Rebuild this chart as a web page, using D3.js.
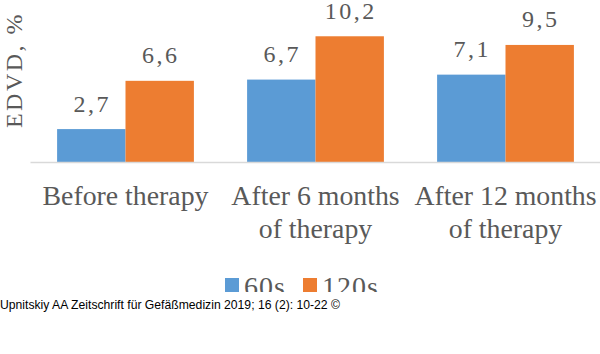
<!DOCTYPE html>
<html lang="en">
<head>
<meta charset="utf-8">
<title>EDVD chart</title>
<script src="https://d3js.org/d3.v7.min.js"></script>
<style>
  body { margin: 0; background: #fff; }
  svg { display: block; }
  .serif { font-family: "Liberation Serif", "Times New Roman", serif; fill: #595959; }
</style>
</head>
<body>
<div id="chart"></div>
<script>
// data
var categories = ["Before therapy", "After 6 months of therapy", "After 12 months of therapy"];
var labelLines = [["Before therapy"], ["After 6 months", "of therapy"], ["After 12 months", "of therapy"]];
var seriesNames = ["60s", "120s"];
var values60 = [2.7, 6.7, 7.1];
var values120 = [6.6, 10.2, 9.5];
var colors = ["#5b9bd5", "#ed7d31"];

var W = 600, H = 354;
var svg = d3.select("#chart").append("svg")
  .attr("width", W).attr("height", H);

// the chart picture is cut at its bottom edge (legend is cut like in the source)
svg.append("defs").append("clipPath").attr("id", "clip")
  .append("rect").attr("x", 0).attr("y", 0).attr("width", W).attr("height", 292);

var g = svg.append("g").attr("clip-path", "url(#clip)");

var x = d3.scaleBand()
  .domain(categories)
  .range([30.5, 600.5])
  .paddingInner(0.28)
  .paddingOuter(0.14);

var x1 = d3.scaleBand()
  .domain(seriesNames)
  .range([0, x.bandwidth()]);

var y = d3.scaleLinear()
  .domain([0, 12])
  .range([162.5, 14]);

var rows = categories.map(function (c, i) {
  return { cat: c, vals: [values60[i], values120[i]] };
});

// bars
var groups = g.selectAll(".grp").data(rows).enter().append("g")
  .attr("transform", function (d) { return "translate(" + x(d.cat) + ",0)"; });

groups.selectAll("rect").data(function (d) {
  return d.vals.map(function (v, j) { return { s: seriesNames[j], v: v, j: j }; });
}).enter().append("rect")
  .attr("x", function (d) { return x1(d.s); })
  .attr("y", function (d) { return y(d.v); })
  .attr("width", x1.bandwidth())
  .attr("height", function (d) { return y(0) - y(d.v); })
  .attr("fill", function (d) { return colors[d.j]; });

// value labels
groups.selectAll("text").data(function (d) {
  return d.vals.map(function (v, j) { return { s: seriesNames[j], v: v }; });
}).enter().append("text")
  .attr("class", "serif")
  .attr("x", function (d) { return x1(d.s) + x1.bandwidth() / 2 + 1; })
  .attr("y", function (d) { return y(d.v) - 17.5; })
  .attr("text-anchor", "middle")
  .style("font-size", "24px")
  .style("letter-spacing", "2.5px")
  .text(function (d) { return String(d.v).replace(".", ","); });

// axis line
g.append("line")
  .attr("x1", x.range()[0]).attr("x2", x.range()[1])
  .attr("y1", y(0)).attr("y2", y(0))
  .attr("stroke", "#d9d9d9").attr("stroke-width", 1.5);

// category labels
categories.forEach(function (c, i) {
  var t = g.append("text")
    .attr("class", "serif")
    .attr("text-anchor", "middle")
    .style("font-size", "27.8px");
  labelLines[i].forEach(function (line, k) {
    t.append("tspan")
      .attr("x", x(c) + x.bandwidth() / 2)
      .attr("y", 205 + k * 33)
      .text(line);
  });
});

// y axis title
g.append("text")
  .attr("class", "serif")
  .attr("transform", "translate(22,70) rotate(-90)")
  .attr("text-anchor", "middle")
  .style("font-size", "24px")
  .style("letter-spacing", "2.5px")
  .text("EDVD, %");

// legend
var legX = [225, 303];
seriesNames.forEach(function (s, i) {
  g.append("rect")
    .attr("x", legX[i]).attr("y", 278)
    .attr("width", 14).attr("height", 14)
    .attr("fill", colors[i]);
  g.append("text")
    .attr("class", "serif")
    .attr("x", legX[i] + 19)
    .attr("y", 296)
    .style("font-size", "28px")
    .style("letter-spacing", "1px")
    .text(s);
});

// source line
svg.append("text")
  .attr("x", 0).attr("y", 309)
  .attr("textLength", 340)
  .attr("lengthAdjust", "spacingAndGlyphs")
  .style("font-family", "'Liberation Sans', Arial, sans-serif")
  .style("font-size", "13px")
  .attr("fill", "#000")
  .text("Upnitskiy AA Zeitschrift für Gefäßmedizin 2019; 16 (2): 10-22 ©");
</script>
</body>
</html>
